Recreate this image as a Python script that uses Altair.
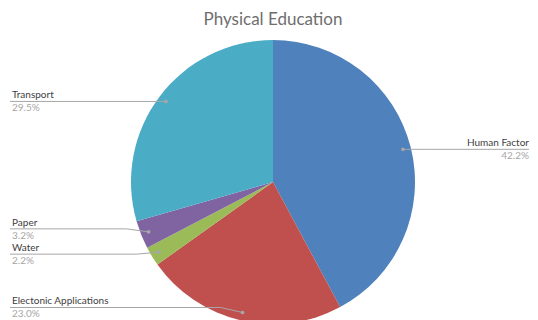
import math
import altair as alt
import pandas as pd

# ---- data -------------------------------------------------------------
names = ["Human Factor", "Electonic Applications", "Water", "Paper", "Transport"]
shares = [42.2, 23.0, 2.2, 3.2, 29.5]
pct_labels = ["42.2%", "23.0%", "2.2%", "3.2%", "29.5%"]
colors = ["#4F81BD", "#C0504D", "#9BBB59", "#8064A2", "#4BACC6"]
title_text = "Physical Education"

# ---- layout -----------------------------------------------------------
W, H = 522, 312          # plot area (pixels)
CX, CY = 265, 174        # pie centre in plot coords
R = 142                  # pie radius
R_DOT = 134              # radius of the leader-line dots
LEFT_X, RIGHT_X = 2, 521 # outer ends of leader lines
label_shift = {"Paper": -3, "Water": 2, "Electonic Applications": -5}
FONT = "Lato"

total = sum(shares)
rows, line_rows = [], []
cum = 0.0
for i, (n, v, p) in enumerate(zip(names, shares, pct_labels)):
    mid = (cum + v / 2) / total * 2 * math.pi
    cum += v
    dx = CX + R_DOT * math.sin(mid)
    dy = CY - R_DOT * math.cos(mid)
    left = dx < CX
    ly = dy + label_shift.get(n, 0)
    ex = LEFT_X if left else RIGHT_X
    elbow = dx - 22 if left else dx + 22
    tx = ex + 2 if left else ex
    rows.append(dict(idx=i, name=n, share=v, pct=p, dx=dx, dy=dy,
                     side="left" if left else "right",
                     tx=tx, ny=ly - 3, py=ly + 10))
    for k, (xx, yy) in enumerate([(dx, dy), (elbow, ly), (ex, ly)]):
        line_rows.append(dict(name=n, ord=k, x=xx, y=yy))

df = pd.DataFrame(rows)
lines = pd.DataFrame(line_rows)

xs = alt.Scale(domain=[0, W], nice=False, zero=False)
ys = alt.Scale(domain=[0, H], reverse=True, nice=False, zero=False)

pie = alt.Chart(df).mark_arc(radius=R, strokeWidth=0).encode(
    theta=alt.Theta("share:Q", stack=True),
    order=alt.Order("idx:Q"),
    color=alt.Color("name:N", scale=alt.Scale(domain=names, range=colors), legend=None),
    x=alt.value(CX),
    y=alt.value(CY),
)

leader = alt.Chart(lines).mark_line(color="#a6a6a6", strokeWidth=1).encode(
    x=alt.X("x:Q", scale=xs, axis=None),
    y=alt.Y("y:Q", scale=ys, axis=None),
    detail="name:N",
    order="ord:Q",
)

dots = alt.Chart(df).mark_circle(size=14, color="#a6a6a6", opacity=1).encode(
    x=alt.X("dx:Q", scale=xs, axis=None),
    y=alt.Y("dy:Q", scale=ys, axis=None),
)

def labels(side, align):
    base = alt.Chart(df).transform_filter(alt.datum.side == side)
    nm = base.mark_text(align=align, baseline="alphabetic", font=FONT,
                        fontSize=10, color="#404040").encode(
        x=alt.X("tx:Q", scale=xs, axis=None),
        y=alt.Y("ny:Q", scale=ys, axis=None),
        text="name:N",
    )
    pc = base.mark_text(align=align, baseline="alphabetic", font=FONT,
                        fontSize=10, color="#a6a6a6").encode(
        x=alt.X("tx:Q", scale=xs, axis=None),
        y=alt.Y("py:Q", scale=ys, axis=None),
        text="pct:N",
    )
    return nm + pc

title = alt.Chart(pd.DataFrame({"t": [title_text]})).mark_text(
    align="center", baseline="alphabetic", font=FONT, fontSize=17, color="#6e6e6e"
).encode(
    x=alt.value(CX),
    y=alt.value(17),
    text="t:N",
)

chart = alt.layer(pie, leader, dots, labels("left", "left"), labels("right", "right"), title).properties(
    width=W, height=H, padding=0,
    autosize=alt.AutoSizeParams(type="none"),
).configure_view(stroke=None)

chart.save("out.html", embed_options={"renderer": "svg", "actions": False})
